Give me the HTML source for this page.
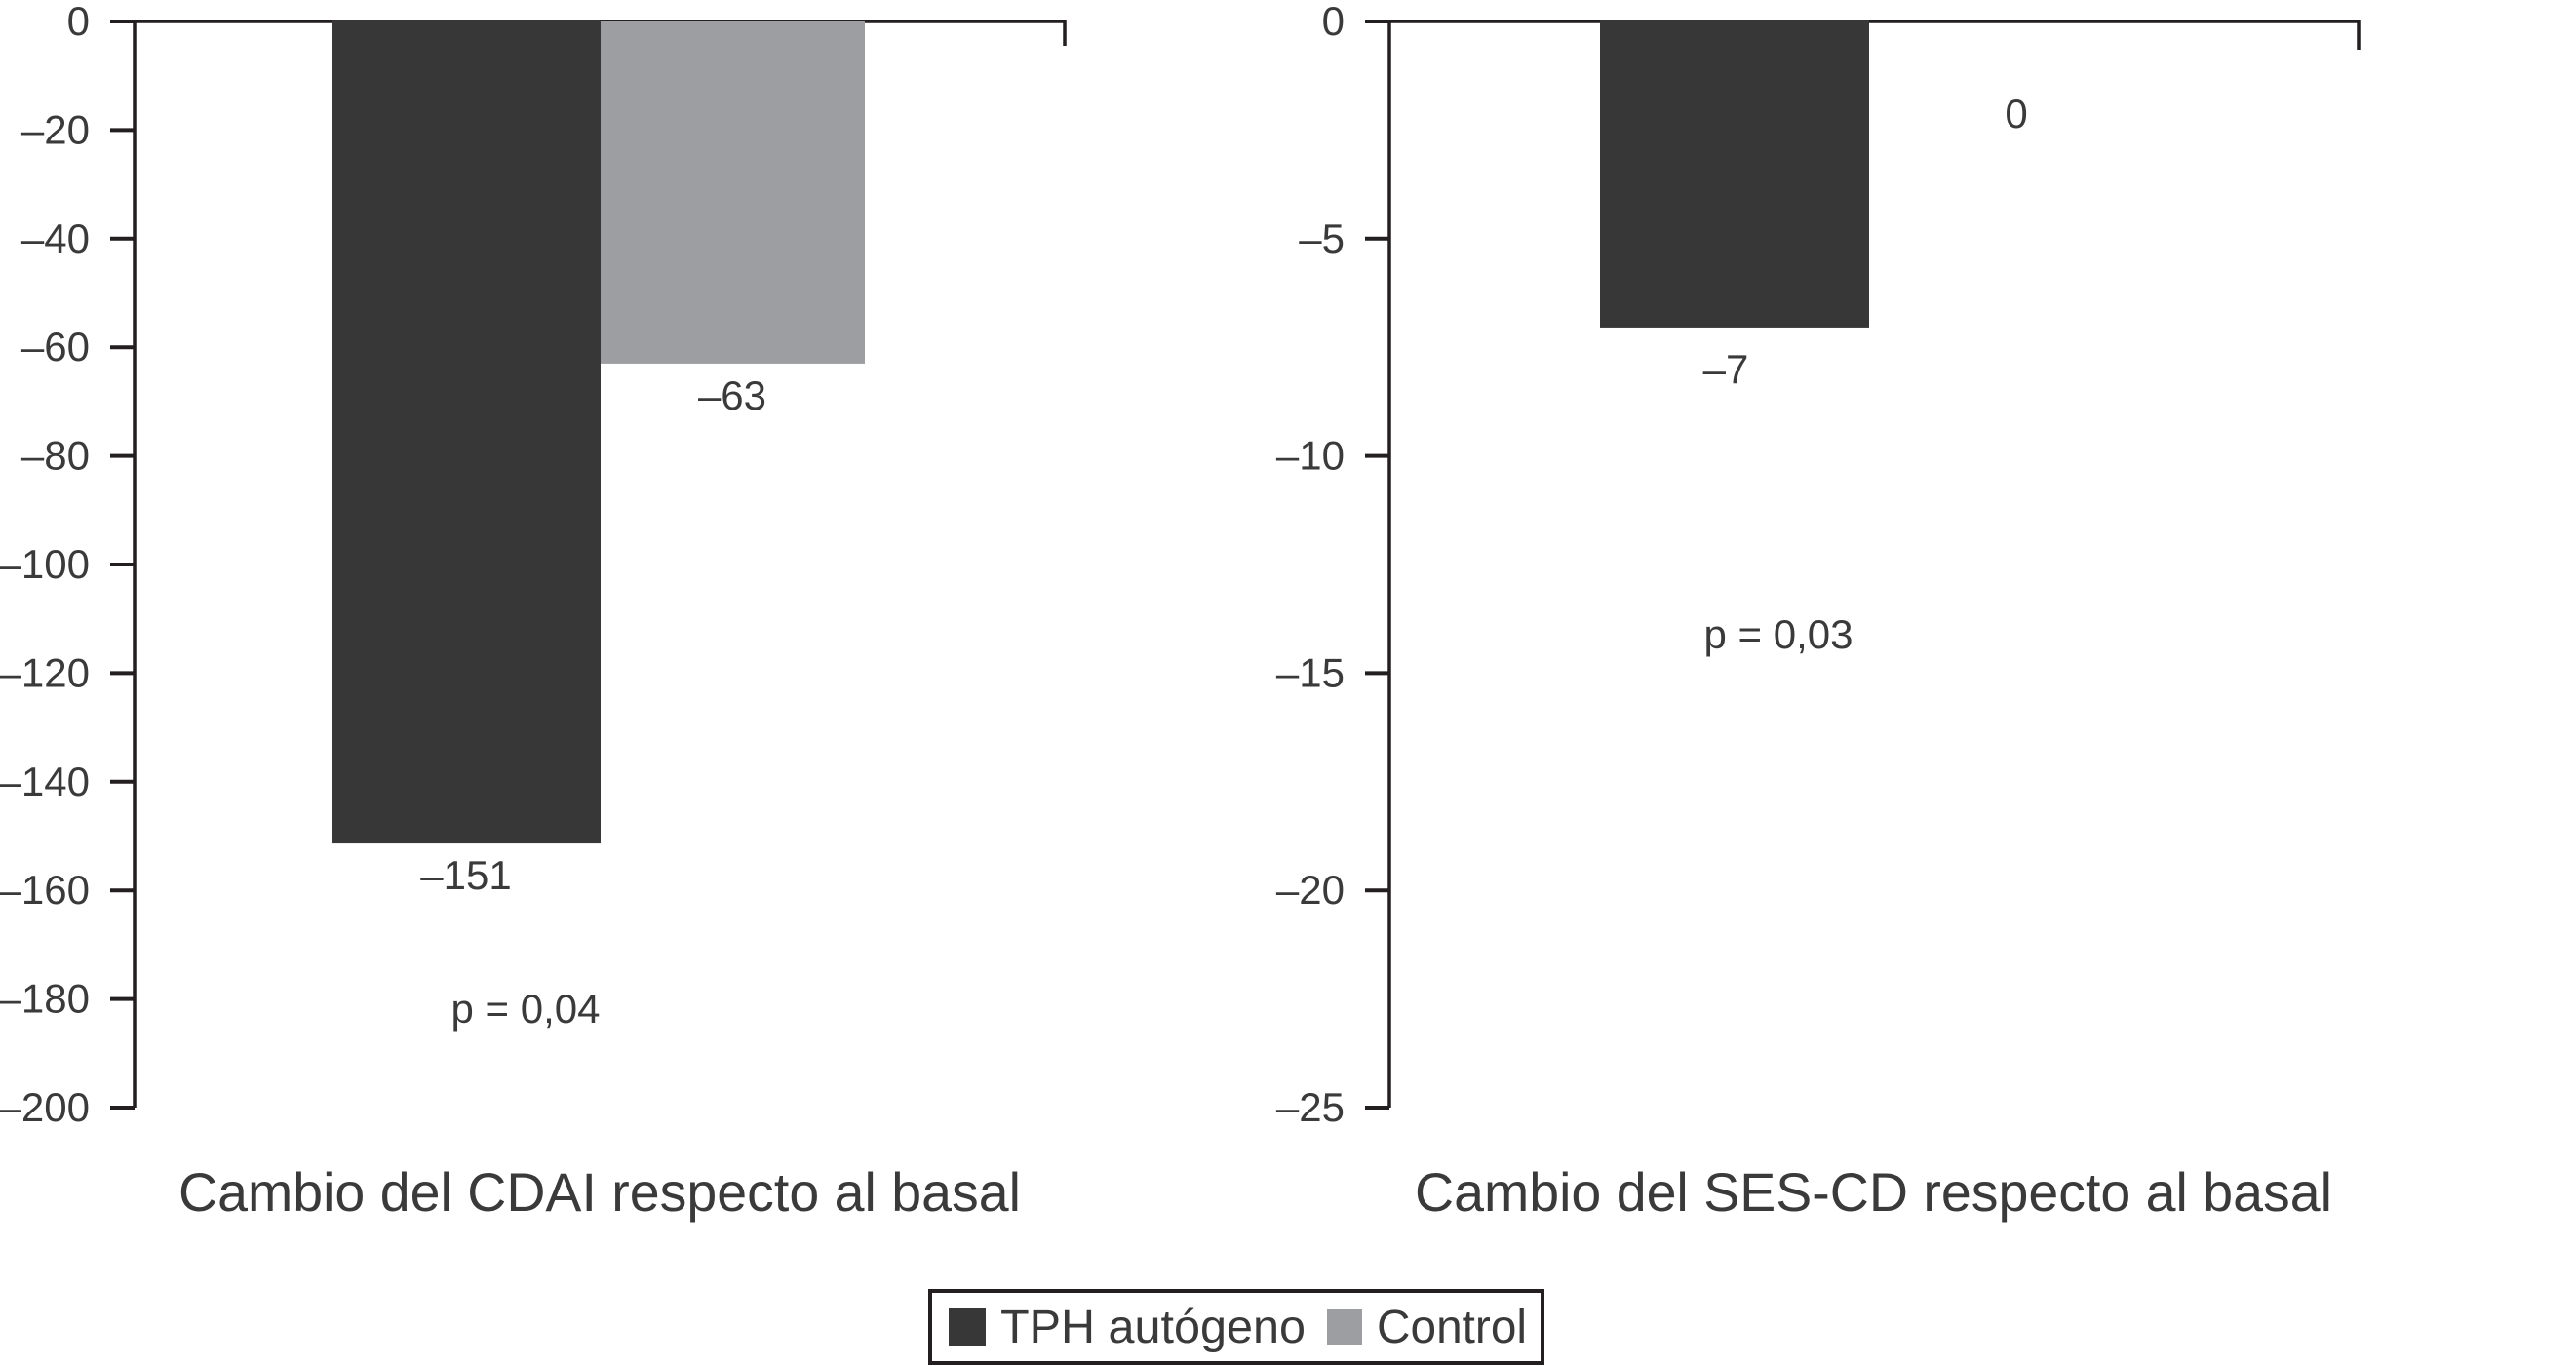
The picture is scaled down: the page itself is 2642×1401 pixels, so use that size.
<!DOCTYPE html>
<html lang="es">
<head>
<meta charset="utf-8">
<title>Cambio del CDAI y SES-CD respecto al basal</title>
<style>
html,body{margin:0;padding:0;background:#fff;width:2642px;height:1401px;overflow:hidden}
svg{display:block}
text{font-family:"Liberation Sans",Arial,sans-serif;fill:#3a3a3a}
</style>
</head>
<body>
<svg id="figure" xmlns="http://www.w3.org/2000/svg" width="2642" height="1401" viewBox="0 0 2642 1401">
  <rect x="0" y="0" width="2642" height="1401" fill="#fff"/>
  <g id="left-chart"></g>
  <g id="right-chart"></g>
  <text x="183" y="1242" font-size="56" textLength="864" lengthAdjust="spacingAndGlyphs">Cambio del CDAI respecto al basal</text>
  <text x="1451" y="1242" font-size="56" textLength="941" lengthAdjust="spacingAndGlyphs">Cambio del SES-CD respecto al basal</text>
  <g>
    <rect x="954" y="1324" width="628" height="74" fill="#fff" stroke="#231f20" stroke-width="4"/>
    <rect x="973" y="1342" width="38" height="38" fill="#373737"/>
    <text x="1026" y="1377" font-size="48" textLength="313" lengthAdjust="spacingAndGlyphs">TPH autógeno</text>
    <rect x="1361" y="1343" width="36" height="36" fill="#9d9ea1"/>
    <text x="1412" y="1377" font-size="48" textLength="154" lengthAdjust="spacingAndGlyphs">Control</text>
  </g>
</svg>
<script>
// Left chart data (CDAI)
const cdaiTicks = [0, -20, -40, -60, -80, -100, -120, -140, -160, -180, -200];
const cdaiTph = -151;
const cdaiControl = -63;
const cdaiPValue = "p = 0,04";
// Right chart data (SES-CD)
const sesTicks = [0, -5, -10, -15, -20, -25];
const sesTph = -7;
const sesControl = 0;
const sesPValue = "p = 0,03";

const NS = "http://www.w3.org/2000/svg";
const TOP = 22, BOTTOM = 1136, INK = "#231f20", DARK = "#373737", LIGHT = "#9d9ea1";

function fmt(v) {
  return v < 0 ? "\u2013" + Math.abs(v) : String(v);
}
function make(parent, tag, attrs, txt) {
  const el = document.createElementNS(NS, tag);
  for (const k in attrs) el.setAttribute(k, attrs[k]);
  if (txt !== undefined) el.textContent = txt;
  parent.appendChild(el);
  return el;
}
function scale(minVal) {
  return function (v) { return TOP + (v / minVal) * (BOTTOM - TOP); };
}
function drawAxes(g, ticks, y, axisX, rightX, rightDrop) {
  const axis = make(g, "path", {
    d: "M" + axisX + " " + TOP + "V" + BOTTOM,
    stroke: INK, "stroke-width": 3.5, fill: "none"
  });
  
  
  const top = make(g, "path", {
    d: "M" + axisX + " " + TOP + "H" + rightX + "V" + rightDrop,
    stroke: INK, "stroke-width": 3.5, fill: "none"
  });
  
  
  ticks.forEach(function (t) {
    const tick = make(g, "line", {
      x1: axisX - 25, x2: axisX, y1: y(t), y2: y(t),
      stroke: INK, "stroke-width": 4
    });
    
    
    const label = make(g, "text", {
      x: axisX - 46, y: y(t) + 14, "font-size": 42, "text-anchor": "end"
    }, fmt(t));
    
    
  });
}
function drawBar(g, name, value, y, x0, x1, fill, pad) {
  const top = y(0) - pad;
  const bar = make(g, "rect", {
    x: x0, y: top, width: x1 - x0, height: Math.max(0, y(value) + pad - top), fill: fill
  });
  
  
}
function drawLabel(g, name, txt, cx, baseline) {
  const t = make(g, "text", {
    x: cx, y: baseline, "font-size": 42, "text-anchor": "middle"
  }, txt);
  
  
}

// CDAI chart
const leftG = document.getElementById("left-chart");
const yL = scale(cdaiTicks[cdaiTicks.length - 1]);
drawAxes(leftG, cdaiTicks, yL, 138, 1092, 47);
drawBar(leftG, "bar-cdai-tph", cdaiTph, yL, 341, 616, DARK, 2);
drawBar(leftG, "bar-cdai-control", cdaiControl, yL, 616, 887, LIGHT, 0);
drawLabel(leftG, "value-label-cdai-tph", fmt(cdaiTph), 478, yL(cdaiTph) + 49);
drawLabel(leftG, "value-label-cdai-control", fmt(cdaiControl), 751, yL(cdaiControl) + 47);
drawLabel(leftG, "p-value-cdai", cdaiPValue, 539, 1049);

// SES-CD chart
const rightG = document.getElementById("right-chart");
const yR = scale(sesTicks[sesTicks.length - 1]);
drawAxes(rightG, sesTicks, yR, 1425, 2419, 51);
drawBar(rightG, "bar-ses-cd-tph", sesTph, yR, 1641, 1917, DARK, 2);
drawBar(rightG, "bar-ses-cd-control", sesControl, yR, 1917, 2192, LIGHT, 0);
drawLabel(rightG, "value-label-ses-cd-tph", fmt(sesTph), 1770, yR(sesTph) + 59);
drawLabel(rightG, "value-label-ses-cd-control", fmt(sesControl), 2068, yR(sesControl) + 109);
drawLabel(rightG, "p-value-ses-cd", sesPValue, 1824, 665);
</script>
</body>
</html>
